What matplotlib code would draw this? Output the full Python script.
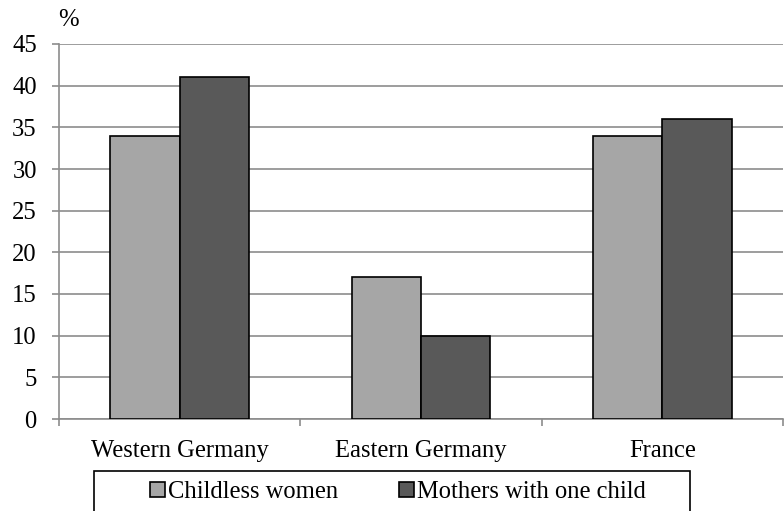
import numpy as np
import matplotlib.pyplot as plt
from matplotlib.patches import Rectangle

countries = ["Western Germany", "Eastern Germany", "France"]
childless = [34, 17, 34]
one_child = [41, 10, 36]
series_names = ["Childless women", "Mothers with one child"]
yticks = [0, 5, 10, 15, 20, 25, 30, 35, 40, 45]

plt.rcParams["font.family"] = ["Liberation Serif", "DejaVu Serif"]
plt.rcParams["font.size"] = 17.7

W, H = 784, 511
fig = plt.figure(figsize=(W / 100, H / 100), dpi=100)
ax = fig.add_axes([59 / W, (H - 419) / H, (783 - 59) / W, (419 - 44) / H])

x = np.arange(len(countries))
bw = 70 / 244
light = "#a6a6a6"
dark = "#595959"
ax.bar(x - bw / 2, childless, bw, color=light, edgecolor="black", linewidth=1.2,
       label=series_names[0], zorder=3)
ax.bar(x + bw / 2, one_child, bw, color=dark, edgecolor="black", linewidth=1.2,
       label=series_names[1], zorder=3)

ax.set_xlim(-0.5, len(countries) - 0.5)
ax.set_ylim(0, 45)
ax.set_yticks(yticks)
ax.yaxis.grid(True, color="#8c8c8c", linewidth=1.2, zorder=0)

# category labels at centres, tick marks at the boundaries
ax.set_xticks(x)
ax.set_xticklabels(countries)
ax.set_xticks(np.arange(len(countries) + 1) - 0.5, minor=True)
ax.tick_params(axis="x", which="major", length=0, pad=15)
ax.tick_params(axis="x", which="minor", length=5, color="#8c8c8c", width=1.2)
ax.tick_params(axis="y", length=5, color="#8c8c8c", width=1.2, pad=11)

for side in ["top", "right"]:
    ax.spines[side].set_visible(False)
for side in ["left", "bottom"]:
    ax.spines[side].set_color("#8c8c8c")
    ax.spines[side].set_linewidth(1.2)

ax.text(58 / W, 1 - 20 / H, "%", transform=fig.transFigure, ha="left", va="center")

# legend box running off the bottom edge
fig.patches.append(Rectangle((94 / W, -20 / H), (690 - 94) / W, (H - 471 + 20) / H,
                             transform=fig.transFigure, facecolor="white",
                             edgecolor="black", linewidth=1.2))
fig.legend(loc="center left", bbox_to_anchor=(150 / W, 1 - 492 / H), ncol=2,
           frameon=False, handlelength=0.6, handleheight=0.6, handletextpad=0.15,
           columnspacing=2.45, borderaxespad=0, borderpad=0)

fig.savefig("out.png", dpi=100)
